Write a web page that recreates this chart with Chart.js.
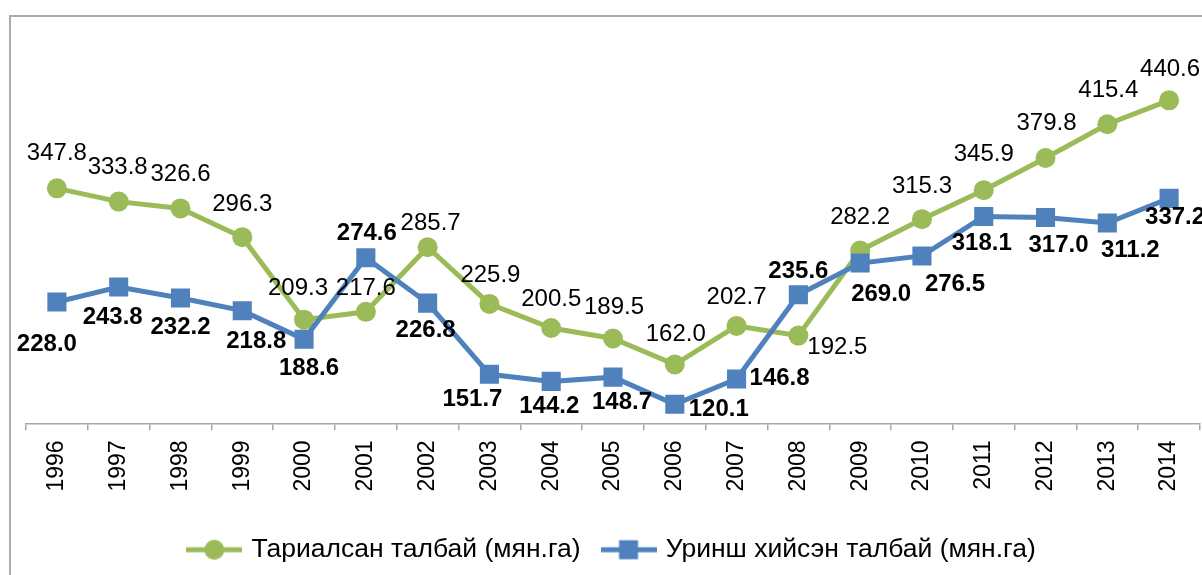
<!DOCTYPE html>
<html>
<head>
<meta charset="utf-8">
<title>Тариалсан талбай</title>
<script src="https://cdn.jsdelivr.net/npm/chart.js@4.4.0/dist/chart.umd.min.js"></script>
<style>
    html, body { margin: 0; padding: 0; background: #fff; }
    #wrap { position: relative; width: 1202px; height: 575px; overflow: hidden; }
    #frame { position: absolute; left: 9px; top: 15px; width: 1400px; height: 800px;
             border-left: 2px solid #ababab; border-top: 2px solid #ababab; }
    #chart { position: absolute; left: 0; top: 0; }
</style>
</head>
<body>
<div id="wrap">
    <div id="frame"></div>
    <canvas id="chart" width="1202" height="575"></canvas>
</div>
<script>
// Data
const years = ['1996', '1997', '1998', '1999', '2000', '2001', '2002', '2003', '2004', '2005',
               '2006', '2007', '2008', '2009', '2010', '2011', '2012', '2013', '2014'];
const sownArea = [347.8, 333.8, 326.6, 296.3, 209.3, 217.6, 285.7, 225.9, 200.5, 189.5,
                  162.0, 202.7, 192.5, 282.2, 315.3, 345.9, 379.8, 415.4, 440.6];
const fallowArea = [228.0, 243.8, 232.2, 218.8, 188.6, 274.6, 226.8, 151.7, 144.2, 148.7,
                    120.1, 146.8, 235.6, 269.0, 276.5, 318.1, 317.0, 311.2, 337.2];
const seriesNames = ['Тариалсан талбай (мян.га)', 'Уринш хийсэн талбай (мян.га)'];

// label placement (dx, dy from the marker), like the original layout
const sownLabelPos = [[0,-35],[-1,-34],[0,-34],[0,-33],[-6,-31],[0,-23],[3,-24],[1,-29],[0,-29],[1,-31],
                      [1,-30],[0,-29],[39,12],[0,-33],[0,-33],[0,-36],[1,-35],[1,-34],[1,-31]];
const fallowLabelPos = [[-10,42],[-6,30],[0,29],[14,31],[5,29],[1,-24],[-2,27],[-17,25],[-2,25],[9,25],
                        [44,5],[43,-1],[0,-23],[21,31],[33,28],[-2,27],[13,28],[23,27],[6,19]];

const GREEN = '#9bbb59';
const BLUE = '#4f81bd';
const FONT = "'Liberation Sans', Arial, sans-serif";

// legend symbol: short line with the marker on it
function legendSymbol(color, shape) {
    const c = document.createElement('canvas');
    c.width = 56;
    c.height = 22;
    const g = c.getContext('2d');
    g.strokeStyle = color;
    g.lineWidth = 5;
    g.beginPath();
    g.moveTo(0, 11);
    g.lineTo(56, 11);
    g.stroke();
    g.fillStyle = color;
    if (shape === 'circle') {
        g.beginPath();
        g.arc(28, 11, 10, 0, Math.PI * 2);
        g.fill();
    } else {
        g.fillRect(18.5, 1.5, 19, 19);
    }
    return c;
}

const valueLabels = {
    id: 'valueLabels',
    afterDatasetsDraw(chart) {
        const ctx = chart.ctx;
        ctx.save();
        ctx.fillStyle = '#000';
        ctx.textAlign = 'center';
        ctx.textBaseline = 'middle';
        chart.data.datasets.forEach((ds, i) => {
            const meta = chart.getDatasetMeta(i);
            ctx.font = (ds.labelBold ? 'bold ' : '') + '24px ' + FONT;
            meta.data.forEach((pt, j) => {
                const off = ds.labelPos[j];
                ctx.fillText(ds.data[j].toFixed(1), pt.x + off[0], pt.y + off[1]);
            });
        });
        ctx.restore();
    }
};

new Chart(document.getElementById('chart'), {
    type: 'line',
    data: {
        labels: years,
        datasets: [{
            label: seriesNames[0],
            data: sownArea,
            borderColor: GREEN,
            backgroundColor: GREEN,
            borderWidth: 5,
            pointStyle: 'circle',
            pointRadius: 10,
            pointBorderWidth: 0,
            pointBackgroundColor: GREEN,
            tension: 0,
            order: 1,
            labelPos: sownLabelPos,
            labelBold: false
        }, {
            label: seriesNames[1],
            data: fallowArea,
            borderColor: BLUE,
            backgroundColor: BLUE,
            borderWidth: 5,
            pointStyle: 'rect',
            pointRadius: 13.5,
            pointBorderWidth: 0,
            pointBackgroundColor: BLUE,
            tension: 0,
            order: 0,
            labelPos: fallowLabelPos,
            labelBold: true
        }]
    },
    options: {
        responsive: false,
        animation: false,
        layout: {
            autoPadding: false,
            padding: { left: 26, right: 2, top: 44, bottom: 2 }
        },
        plugins: {
            tooltip: { enabled: false },
            legend: {
                position: 'bottom',
                labels: {
                    usePointStyle: true,
                    pointStyleWidth: 48,
                    padding: 24,
                    color: '#000',
                    font: { family: FONT, size: 26.5 },
                    generateLabels(chart) {
                        return chart.data.datasets.map((ds, i) => ({
                            text: ds.label,
                            datasetIndex: i,
                            fillStyle: ds.borderColor,
                            strokeStyle: ds.borderColor,
                            lineWidth: 0,
                            fontColor: '#000',
                            pointStyle: legendSymbol(ds.borderColor, i === 0 ? 'circle' : 'rect')
                        }));
                    }
                }
            }
        },
        scales: {
            x: {
                offset: true,
                border: { display: true, color: '#a6a6a6', width: 1.5 },
                grid: {
                    display: true,
                    offset: true,
                    drawOnChartArea: false,
                    drawTicks: true,
                    tickLength: 7,
                    color: '#a6a6a6',
                    lineWidth: 1.5
                },
                ticks: {
                    minRotation: 90,
                    maxRotation: 90,
                    padding: 10,
                    color: '#000',
                    font: { family: FONT, size: 23 }
                },
                afterFit(scale) {
                    scale.height += 11;
                    scale.paddingLeft = 0;
                    scale.paddingRight = 0;
                }
            },
            y: {
                display: false,
                min: 100,
                max: 500
            }
        }
    },
    plugins: [valueLabels]
});
</script>
</body>
</html>
